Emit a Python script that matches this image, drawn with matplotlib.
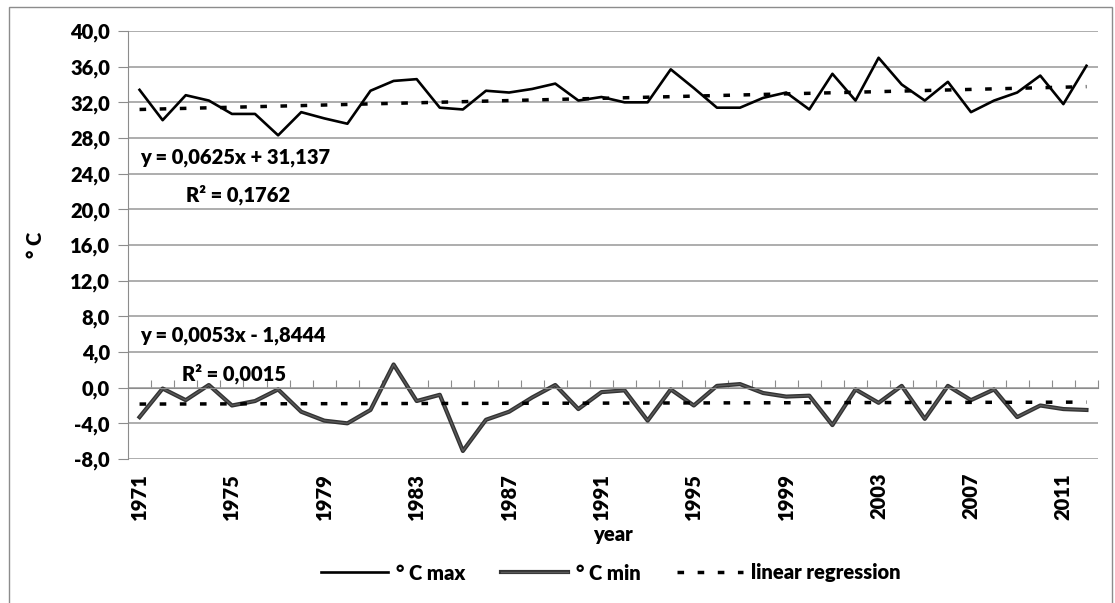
import matplotlib
matplotlib.use('Agg')
import matplotlib.pyplot as plt
import matplotlib.patches as patches
import matplotlib.patheffects as pe
from matplotlib.ticker import FuncFormatter

years = list(range(1971, 2013))
t_max = [33.4, 30.0, 32.8, 32.2, 30.7, 30.7, 28.3, 30.9, 30.2, 29.6,
         33.3, 34.4, 34.6, 31.4, 31.2, 33.3, 33.1, 33.5, 34.1, 32.2,
         32.6, 32.0, 32.0, 35.7, 33.6, 31.4, 31.4, 32.5, 33.1, 31.2,
         35.2, 32.2, 37.0, 34.0, 32.2, 34.3, 30.9, 32.2, 33.1, 35.0,
         31.8, 36.1]
t_min = [-3.3, -0.1, -1.4, 0.3, -2.0, -1.5, -0.2, -2.7, -3.7, -4.0,
         -2.5, 2.6, -1.5, -0.8, -7.1, -3.6, -2.7, -1.1, 0.3, -2.4,
         -0.5, -0.3, -3.7, -0.2, -2.0, 0.2, 0.4, -0.6, -1.0, -0.9,
         -4.2, -0.2, -1.7, 0.2, -3.5, 0.2, -1.4, -0.2, -3.3, -2.0,
         -2.4, -2.5]
# trendline equations printed on the chart (x = 1..42)
max_slope, max_icpt = 0.0625, 31.137
min_slope, min_icpt = 0.0053, -1.8444
eq_max = "y = 0,0625x + 31,137"
r2_max = "R\u00b2 = 0,1762"
eq_min = "y = 0,0053x - 1,8444"
r2_min = "R\u00b2 = 0,0015"
y_ticks = list(range(-8, 41, 4))
label_years = years[::4]

plt.rcParams['font.family'] = ['Lato', 'DejaVu Sans']
plt.rcParams['font.weight'] = 'heavy'
plt.rcParams['axes.labelweight'] = 'heavy'
fs = 14.5

gray = '#8c8c8c'
fig = plt.figure(figsize=(11.15, 6.03), dpi=100)
fig.patches.append(patches.Rectangle((8.5 / 1115, -0.1), (1112 - 8.5) / 1115, 1.1 - 7.5 / 603,
                                     transform=fig.transFigure, fill=False,
                                     edgecolor=gray, lw=1))
ax = fig.add_axes([128 / 1115, 1 - 459 / 603, 970 / 1115, 428 / 603])

idx = list(range(len(years)))
trend_max = [max_icpt + max_slope * (i + 1) for i in idx]
trend_min = [min_icpt + min_slope * (i + 1) for i in idx]

l_max, = ax.plot(idx, t_max, color='black', lw=1.9, label='\u00b0 C max')
l_min, = ax.plot(idx, t_min, color='#5a5a5a', lw=1.0, label='\u00b0 C min',
                 path_effects=[pe.Stroke(linewidth=3.0, foreground='#333333'), pe.Normal()])
l_tr, = ax.plot(idx, trend_max, color='black', lw=2.5, dashes=(1.9, 3.9),
                dash_capstyle='butt', label='linear regression')
ax.plot(idx, trend_min, color='black', lw=2.5, dashes=(1.9, 3.9), dash_capstyle='butt')

ax.set_xlim(-0.5, len(years) - 0.5)
ax.set_ylim(-8, 40)
ax.set_yticks(y_ticks)
ax.yaxis.set_major_formatter(FuncFormatter(lambda v, p: f"{v:.1f}".replace('.', ',')))
ax.yaxis.grid(True, color='#a0a0a0', lw=1.2)
ax.set_axisbelow(True)
ax.tick_params(axis='y', direction='out', length=7, color=gray, labelsize=fs, pad=6)

for s in ['top', 'right']:
    ax.spines[s].set_visible(False)
ax.spines['left'].set_color(gray)
ax.spines['bottom'].set_color(gray)
ax.spines['bottom'].set_position(('data', 0))
ax.set_xticks([i - 0.5 for i in range(len(years) + 1)])
ax.tick_params(axis='x', direction='in', length=6, color=gray, labelbottom=False)

sec = ax.secondary_xaxis('bottom')
sec.set_xticks(idx[::4], labels=[str(y) for y in label_years], rotation=90)
sec.tick_params(length=0, pad=10, labelsize=fs)
sec.spines['bottom'].set_visible(False)
sec.set_xlabel('year', fontsize=fs, fontweight='heavy', labelpad=4)

ax.set_ylabel('\u00b0 C', fontsize=fs, fontweight='heavy', labelpad=18)

ax.text(0.02, 25.8, eq_max, fontsize=fs, va='center')
ax.text(2.0, 21.6, r2_max, fontsize=fs, va='center')
ax.text(0.02, 5.9, eq_min, fontsize=fs, va='center')
ax.text(1.84, 1.6, r2_min, fontsize=fs, va='center')

ax.legend(handles=[l_max, l_min, l_tr], loc='center', ncol=3, frameon=False,
          bbox_to_anchor=(611 / 1115, 1 - 573 / 603), bbox_transform=fig.transFigure,
          fontsize=fs, handlelength=3.3, handletextpad=0.4, columnspacing=1.8)

fig.savefig('out.png', dpi=100)
